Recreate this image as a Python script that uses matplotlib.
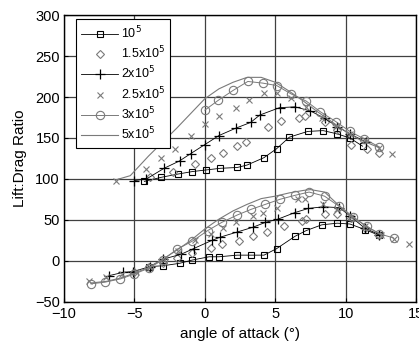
# Lift:Drag ratio vs angle of attack for several Reynolds numbers
# upper group is shifted by +100

import matplotlib.pyplot as plt

plt.rcParams['font.family'] = ['Liberation Sans', 'DejaVu Sans']

# -- data --
# 1e5, squares + black line
sq_up_x = [-4.3, -3.1, -1.9, -0.9, 0.1, 1.1, 2.3, 3.0, 4.2, 5.1, 6.0, 7.3, 8.4, 9.4, 10.3, 11.2]
sq_up_y = [97, 102, 106, 109, 111, 113, 114, 117, 126, 137, 151, 158, 159, 155, 150, 140]
sq_lo_x = [-4.0, -3.0, -1.8, -0.9, 0.3, 1.0, 2.3, 3.3, 4.2, 5.1, 6.4, 7.2, 8.3, 9.4, 10.3, 11.4, 12.4]
sq_lo_y = [-7, -6, -3, 1, 5, 5, 7, 7, 7, 15, 30, 37, 44, 46, 45, 38, 31]

# 1.5e5, diamonds, no line
dm_up_x = [-3.9, -2.25, -0.7, 0.4, 1.3, 2.25, 2.9, 4.5, 5.4, 6.7, 7.1, 8.5, 9.4, 10.4, 11.5, 12.4]
dm_up_y = [102, 108, 118, 125, 132, 140, 145, 163, 171, 174, 177, 170, 160, 142, 137, 132]
dm_lo_x = [-5, -4, -3, -2, -0.9, 0.4, 1.2, 2.4, 3.4, 4.4, 5.6, 6.9, 7.2, 8.5, 9.4, 10.4, 11.4, 12.4]
dm_lo_y = [-14, -8, -3, 3, 10, 16, 20, 24, 30, 35, 42, 49, 51, 57, 57, 52, 40, 32]

# 2e5, plus + black line
pl_up_x = [-5.0, -4.15, -2.9, -1.8, -1.0, 0.0, 1.0, 2.2, 3.25, 3.9, 5.3, 6.4, 7.5, 8.5, 9.4, 10.3, 11.45]
pl_up_y = [98, 100, 113, 122, 131, 142, 153, 162, 169, 178, 187, 188, 183, 174, 164, 155, 145]
pl_lo_x = [-6.8, -5.8, -5.1, -3.9, -3.0, -1.7, -0.8, 0.5, 1.1, 2.25, 3.4, 4.3, 5.2, 6.4, 7.35, 8.4, 9.55, 10.3, 11.35, 12.4]
pl_lo_y = [-18, -14, -13, -7, 2, 8, 15, 25, 29, 35, 41, 47, 51, 59, 64, 66, 65, 55, 40, 32]

# 2.5e5, crosses, no line
cr_up_x = [-6.3, -4.15, -3.1, -2.1, -1.0, 0.0, 1.0, 2.2, 3.1, 4.2, 5.1, 6.1, 7.2, 8.3, 9.3, 10.3, 11.4, 12.4, 13.3]
cr_up_y = [98, 112, 126, 137, 152, 167, 177, 187, 196, 205, 205, 199, 188, 175, 165, 155, 147, 138, 131]
cr_lo_x = [-8.2, -7.0, -5.9, -4.9, -3.9, -2.9, -1.9, -0.7, 0.4, 1.3, 2.2, 3.4, 4.1, 5.1, 6.6, 7.1, 8.4, 9.4, 10.4, 11.4, 12.5, 13.4, 14.5]
cr_lo_y = [-24, -20, -16, -13, -7, 1, 12, 25, 33, 40, 47, 55, 59, 64, 76, 75, 70, 63, 53, 42, 32, 27, 21]

# 3e5, circles + grey line
ci_up_x = [0.0, 0.95, 2.0, 3.05, 4.1, 5.1, 6.1, 7.2, 8.2, 9.3, 10.3, 11.3, 12.4]
ci_up_y = [184, 196, 208, 219, 217, 214, 204, 195, 182, 170, 158, 149, 139]
ci_lo_x = [-8.1, -7.1, -6.0, -5.0, -4.0, -3.0, -2.0, -0.9, 0.2, 1.2, 2.3, 3.3, 4.3, 5.3, 6.4, 7.4, 8.5, 9.5, 10.5, 11.5, 12.4, 13.4]
ci_lo_y = [-28, -26, -22, -16, -9, 1, 14, 24, 37, 47, 56, 63, 69, 75, 80, 84, 79, 67, 53, 42, 33, 28]

# 5e5, grey line only
ln_up_x = [-6.3, -5.3, -4, -3, -2, -1, 0, 1, 2, 3, 4, 5, 6, 7, 8, 9, 10, 11, 12.4]
ln_up_y = [99, 104, 128, 145, 162, 180, 198, 210, 218, 224, 224, 218, 207, 195, 182, 170, 158, 148, 138]
ln_lo_x = [-8.1, -7, -6, -5, -4, -3, -2, -1, 0, 1, 2, 3, 4, 5, 6, 7, 7.5, 8.5, 9.5, 10.5, 11.5, 12.4]
ln_lo_y = [-27, -25, -21, -15, -8, 2, 13, 25, 39, 51, 61, 69, 76, 79, 83, 86, 87, 84, 68, 54, 42, 33]

labels = ['10$^5$', '1.5x10$^5$', '2x10$^5$', '2.5x10$^5$', '3x10$^5$', '5x10$^5$']

grey = '#7a7a7a'

fig = plt.figure(figsize=(4.19, 3.43), dpi=100)
ax = fig.add_axes([0.153, 0.12, 0.840, 0.836])

ax.plot(sq_up_x, sq_up_y, '-s', color='black', lw=0.6, ms=5, mfc='none', mew=0.8, label=labels[0])
ax.plot(sq_lo_x, sq_lo_y, '-s', color='black', lw=0.6, ms=5, mfc='none', mew=0.8)
ax.plot(dm_up_x, dm_up_y, 'D', color=grey, ms=4.5, mfc='none', mew=0.8, ls='none', label=labels[1])
ax.plot(dm_lo_x, dm_lo_y, 'D', color=grey, ms=4.5, mfc='none', mew=0.8, ls='none')
ax.plot(pl_up_x, pl_up_y, '-+', color='black', lw=0.6, ms=7, mew=0.9, label=labels[2])
ax.plot(pl_lo_x, pl_lo_y, '-+', color='black', lw=0.6, ms=7, mew=0.9)
ax.plot(cr_up_x, cr_up_y, 'x', color=grey, ms=4, mew=0.8, ls='none', label=labels[3])
ax.plot(cr_lo_x, cr_lo_y, 'x', color=grey, ms=4, mew=0.8, ls='none')
ax.plot(ci_up_x, ci_up_y, '-o', color=grey, lw=0.7, ms=6, mfc='none', mew=0.8, label=labels[4])
ax.plot(ci_lo_x, ci_lo_y, '-o', color=grey, lw=0.7, ms=6, mfc='none', mew=0.8)
ax.plot(ln_up_x, ln_up_y, '-', color=grey, lw=0.8, label=labels[5])
ax.plot(ln_lo_x, ln_lo_y, '-', color=grey, lw=0.8)

ax.set_xlim(-10, 15)
ax.set_ylim(-50, 300)
ax.set_xticks([-10, -5, 0, 5, 10, 15])
ax.set_yticks([-50, 0, 50, 100, 150, 200, 250, 300])
ax.grid(True, color='#404040', lw=0.9)
ax.set_axisbelow(True)
ax.tick_params(direction='in', length=3, labelsize=10.5, pad=3)
ax.tick_params(axis='x', pad=4)
for s in ax.spines.values():
    s.set_linewidth(1.0)

ax.set_xlabel('angle of attack (°)', fontsize=11, labelpad=4)
ax.set_ylabel('Lift:Drag Ratio', fontsize=11, labelpad=6)

leg = ax.legend(loc='upper left', fontsize=9, handlelength=2.9, handletextpad=0.25,
                labelspacing=0.3, borderpad=0.4, fancybox=False, framealpha=1,
                edgecolor='black', bbox_to_anchor=(0.035, 0.985), borderaxespad=0)
leg.get_frame().set_linewidth(0.8)

plt.savefig('out.png', dpi=100)
